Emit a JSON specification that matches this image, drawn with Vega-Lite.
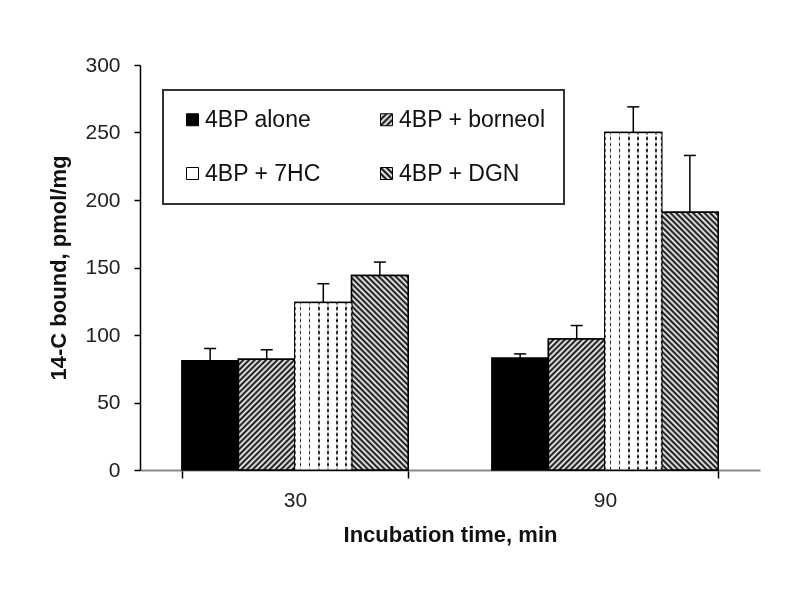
{
"$schema": "https://vega.github.io/schema/vega-lite/v6.json",
"autosize": {"type": "none"},
"width": 620,
"height": 405,
"padding": {"left": 140, "top": 65, "right": 40, "bottom": 123},
"background": "white",
"params": [
{"name": "stripes", "value": [
{"offset":0,"color":"#000"},{"offset":0.0083,"color":"#fff"},{"offset":0.0167,"color":"#000"},{"offset":0.025,"color":"#fff"},{"offset":0.0333,"color":"#000"},{"offset":0.0417,"color":"#fff"},{"offset":0.05,"color":"#000"},{"offset":0.0583,"color":"#fff"},{"offset":0.0667,"color":"#000"},{"offset":0.075,"color":"#fff"},{"offset":0.0833,"color":"#000"},{"offset":0.0917,"color":"#fff"},
{"offset":0.1,"color":"#000"},{"offset":0.1083,"color":"#fff"},{"offset":0.1167,"color":"#000"},{"offset":0.125,"color":"#fff"},{"offset":0.1333,"color":"#000"},{"offset":0.1417,"color":"#fff"},{"offset":0.15,"color":"#000"},{"offset":0.1583,"color":"#fff"},{"offset":0.1667,"color":"#000"},{"offset":0.175,"color":"#fff"},{"offset":0.1833,"color":"#000"},{"offset":0.1917,"color":"#fff"},
{"offset":0.2,"color":"#000"},{"offset":0.2083,"color":"#fff"},{"offset":0.2167,"color":"#000"},{"offset":0.225,"color":"#fff"},{"offset":0.2333,"color":"#000"},{"offset":0.2417,"color":"#fff"},{"offset":0.25,"color":"#000"},{"offset":0.2583,"color":"#fff"},{"offset":0.2667,"color":"#000"},{"offset":0.275,"color":"#fff"},{"offset":0.2833,"color":"#000"},{"offset":0.2917,"color":"#fff"},
{"offset":0.3,"color":"#000"},{"offset":0.3083,"color":"#fff"},{"offset":0.3167,"color":"#000"},{"offset":0.325,"color":"#fff"},{"offset":0.3333,"color":"#000"},{"offset":0.3417,"color":"#fff"},{"offset":0.35,"color":"#000"},{"offset":0.3583,"color":"#fff"},{"offset":0.3667,"color":"#000"},{"offset":0.375,"color":"#fff"},{"offset":0.3833,"color":"#000"},{"offset":0.3917,"color":"#fff"},
{"offset":0.4,"color":"#000"},{"offset":0.4083,"color":"#fff"},{"offset":0.4167,"color":"#000"},{"offset":0.425,"color":"#fff"},{"offset":0.4333,"color":"#000"},{"offset":0.4417,"color":"#fff"},{"offset":0.45,"color":"#000"},{"offset":0.4583,"color":"#fff"},{"offset":0.4667,"color":"#000"},{"offset":0.475,"color":"#fff"},{"offset":0.4833,"color":"#000"},{"offset":0.4917,"color":"#fff"},
{"offset":0.5,"color":"#000"},{"offset":0.5083,"color":"#fff"},{"offset":0.5167,"color":"#000"},{"offset":0.525,"color":"#fff"},{"offset":0.5333,"color":"#000"},{"offset":0.5417,"color":"#fff"},{"offset":0.55,"color":"#000"},{"offset":0.5583,"color":"#fff"},{"offset":0.5667,"color":"#000"},{"offset":0.575,"color":"#fff"},{"offset":0.5833,"color":"#000"},{"offset":0.5917,"color":"#fff"},
{"offset":0.6,"color":"#000"},{"offset":0.6083,"color":"#fff"},{"offset":0.6167,"color":"#000"},{"offset":0.625,"color":"#fff"},{"offset":0.6333,"color":"#000"},{"offset":0.6417,"color":"#fff"},{"offset":0.65,"color":"#000"},{"offset":0.6583,"color":"#fff"},{"offset":0.6667,"color":"#000"},{"offset":0.675,"color":"#fff"},{"offset":0.6833,"color":"#000"},{"offset":0.6917,"color":"#fff"},
{"offset":0.7,"color":"#000"},{"offset":0.7083,"color":"#fff"},{"offset":0.7167,"color":"#000"},{"offset":0.725,"color":"#fff"},{"offset":0.7333,"color":"#000"},{"offset":0.7417,"color":"#fff"},{"offset":0.75,"color":"#000"},{"offset":0.7583,"color":"#fff"},{"offset":0.7667,"color":"#000"},{"offset":0.775,"color":"#fff"},{"offset":0.7833,"color":"#000"},{"offset":0.7917,"color":"#fff"},
{"offset":0.8,"color":"#000"},{"offset":0.8083,"color":"#fff"},{"offset":0.8167,"color":"#000"},{"offset":0.825,"color":"#fff"},{"offset":0.8333,"color":"#000"},{"offset":0.8417,"color":"#fff"},{"offset":0.85,"color":"#000"},{"offset":0.8583,"color":"#fff"},{"offset":0.8667,"color":"#000"},{"offset":0.875,"color":"#fff"},{"offset":0.8833,"color":"#000"},{"offset":0.8917,"color":"#fff"},
{"offset":0.9,"color":"#000"},{"offset":0.9083,"color":"#fff"},{"offset":0.9167,"color":"#000"},{"offset":0.925,"color":"#fff"},{"offset":0.9333,"color":"#000"},{"offset":0.9417,"color":"#fff"},{"offset":0.95,"color":"#000"},{"offset":0.9583,"color":"#fff"},{"offset":0.9667,"color":"#000"},{"offset":0.975,"color":"#fff"},{"offset":0.9833,"color":"#000"},{"offset":0.9917,"color":"#fff"},
{"offset":1,"color":"#000"}
]},
{"name": "legstripes", "value": [
{"offset":0,"color":"#000"},{"offset":0.125,"color":"#fff"},{"offset":0.25,"color":"#000"},{"offset":0.375,"color":"#fff"},{"offset":0.5,"color":"#000"},{"offset":0.625,"color":"#fff"},{"offset":0.75,"color":"#000"},{"offset":0.875,"color":"#fff"},{"offset":1,"color":"#000"}
]},
{"name": "dotcols", "value": [
{"offset":0,"color":"#fff"},{"offset":0.086,"color":"#fff"},{"offset":0.087,"color":"#000"},{"offset":0.113,"color":"#000"},{"offset":0.114,"color":"#fff"},
{"offset":0.246,"color":"#fff"},{"offset":0.247,"color":"#000"},{"offset":0.273,"color":"#000"},{"offset":0.274,"color":"#fff"},
{"offset":0.406,"color":"#fff"},{"offset":0.407,"color":"#000"},{"offset":0.433,"color":"#000"},{"offset":0.434,"color":"#fff"},
{"offset":0.566,"color":"#fff"},{"offset":0.567,"color":"#000"},{"offset":0.593,"color":"#000"},{"offset":0.594,"color":"#fff"},
{"offset":0.726,"color":"#fff"},{"offset":0.727,"color":"#000"},{"offset":0.753,"color":"#000"},{"offset":0.754,"color":"#fff"},
{"offset":0.886,"color":"#fff"},{"offset":0.887,"color":"#000"},{"offset":0.913,"color":"#000"},{"offset":0.914,"color":"#fff"},{"offset":1,"color":"#fff"}
]}
],
"data": {"values": [
{"time": "30", "series": "4BP alone", "value": 81, "upper": 90},
{"time": "30", "series": "4BP + borneol", "value": 82, "upper": 89},
{"time": "30", "series": "4BP + 7HC", "value": 124, "upper": 138},
{"time": "30", "series": "4BP + DGN", "value": 144, "upper": 154},
{"time": "90", "series": "4BP alone", "value": 83, "upper": 86},
{"time": "90", "series": "4BP + borneol", "value": 97, "upper": 107},
{"time": "90", "series": "4BP + 7HC", "value": 250, "upper": 269},
{"time": "90", "series": "4BP + DGN", "value": 191, "upper": 233}
]},
"encoding": {
"x": {"field": "time", "type": "nominal", "sort": ["30", "90"],
 "scale": {"paddingInner": 0.27, "paddingOuter": 0.135},
 "axis": {"title": "Incubation time, min", "labelAngle": 0, "tickBand": "extent", "tickSize": 8, "tickWidth": 1.5, "tickColor": "#000", "domainColor": "#8a8a8a", "domainWidth": 2, "labelPadding": 11, "titlePadding": 14}},
"xOffset": {"field": "series", "type": "nominal", "sort": ["4BP alone", "4BP + borneol", "4BP + 7HC", "4BP + DGN"], "scale": {"paddingInner": 0, "paddingOuter": 0}}
},
"layer": [
{"mark": {"type": "bar", "stroke": "#000", "strokeWidth": 1.5},
 "encoding": {
  "y": {"field": "value", "type": "quantitative", "stack": null, "scale": {"domain": [0, 300]},
   "axis": {"title": "14-C bound, pmol/mg", "values": [0, 50, 100, 150, 200, 250, 300], "tickSize": 6, "tickWidth": 1.5, "tickColor": "#000", "domainColor": "#000", "domainWidth": 1.5, "labelPadding": 14, "titlePadding": 14}},
  "color": {"field": "series", "type": "nominal", "sort": ["4BP alone", "4BP + borneol", "4BP + 7HC", "4BP + DGN"],
   "scale": {"domain": ["4BP alone", "4BP + borneol", "4BP + 7HC", "4BP + DGN"], "range": ["#000000",
     {"expr": "{gradient: 'linear', x1: 0, y1: 0, x2: 1, y2: 1, stops: legstripes}"},
     "#ffffff",
     {"expr": "{gradient: 'linear', x1: 0, y1: 1, x2: 1, y2: 0, stops: legstripes}"}]},
   "legend": {"orient": "none", "legendX": 23, "legendY": 25, "direction": "horizontal", "columns": 2, "title": null, "symbolType": "square", "symbolSize": 144, "symbolStrokeColor": "#000", "symbolStrokeWidth": 1, "symbolOpacity": 1, "labelFont": "Liberation Sans", "labelFontSize": 23, "labelColor": "#111", "labelOffset": 1, "columnPadding": 54, "rowPadding": 30, "padding": 18, "strokeColor": "#333", "fillColor": "white",
    "encode": {"legend": {"update": {"strokeWidth": {"value": 2}}}}}}
 }},
{"transform": [{"filter": "datum.series == '4BP + borneol' || datum.series == '4BP + DGN'"}],
 "mark": {"type": "bar", "stroke": "#000", "strokeWidth": 1.5},
 "encoding": {
  "y": {"field": "value", "type": "quantitative", "stack": null},
  "fill": {"value": {"expr": "{gradient: 'linear', x1: 0, y1: datum.series == '4BP + DGN' ? 1 : 0, x2: 19176.8/(3192.25+pow(1.35*datum.value,2)), y2: datum.series == '4BP + DGN' ? 1 - 339.41*1.35*datum.value/(3192.25+pow(1.35*datum.value,2)) : 339.41*1.35*datum.value/(3192.25+pow(1.35*datum.value,2)), stops: stripes}"}}
 }},
{"transform": [{"filter": "datum.series == '4BP + 7HC'"}],
 "mark": {"type": "bar", "stroke": "#000", "strokeWidth": 1.5},
 "encoding": {
  "y": {"field": "value", "type": "quantitative", "stack": null},
  "fill": {"value": {"expr": "{gradient: 'linear', x1: 0, y1: 0, x2: 1, y2: 0, stops: dotcols}"}}
 }},
{"transform": [{"filter": "datum.series == '4BP + 7HC'"}],
 "mark": {"type": "bar", "strokeWidth": 0, "blend": "screen"},
 "encoding": {
  "y": {"field": "value", "type": "quantitative", "stack": null},
  "fill": {"value": {"expr": "{gradient: 'linear', x1: 0, y1: 0, x2: 0, y2: 360/(1.35*datum.value), stops: stripes}"}}
 }},
{"mark": {"type": "rule", "stroke": "#000", "strokeWidth": 1.5},
 "encoding": {"y": {"field": "value", "type": "quantitative"}, "y2": {"field": "upper"}}},
{"mark": {"type": "tick", "color": "#000", "thickness": 1.5, "size": 12, "opacity": 1},
 "encoding": {"y": {"field": "upper", "type": "quantitative"}}}
],
"config": {
 "view": {"stroke": null},
 "font": "Liberation Sans",
 "axis": {"labelFont": "Liberation Sans", "labelFontSize": 21, "labelColor": "#222", "titleFont": "Liberation Sans", "titleFontSize": 22, "titleFontWeight": "bold", "titleColor": "#111", "grid": false}
}
}
